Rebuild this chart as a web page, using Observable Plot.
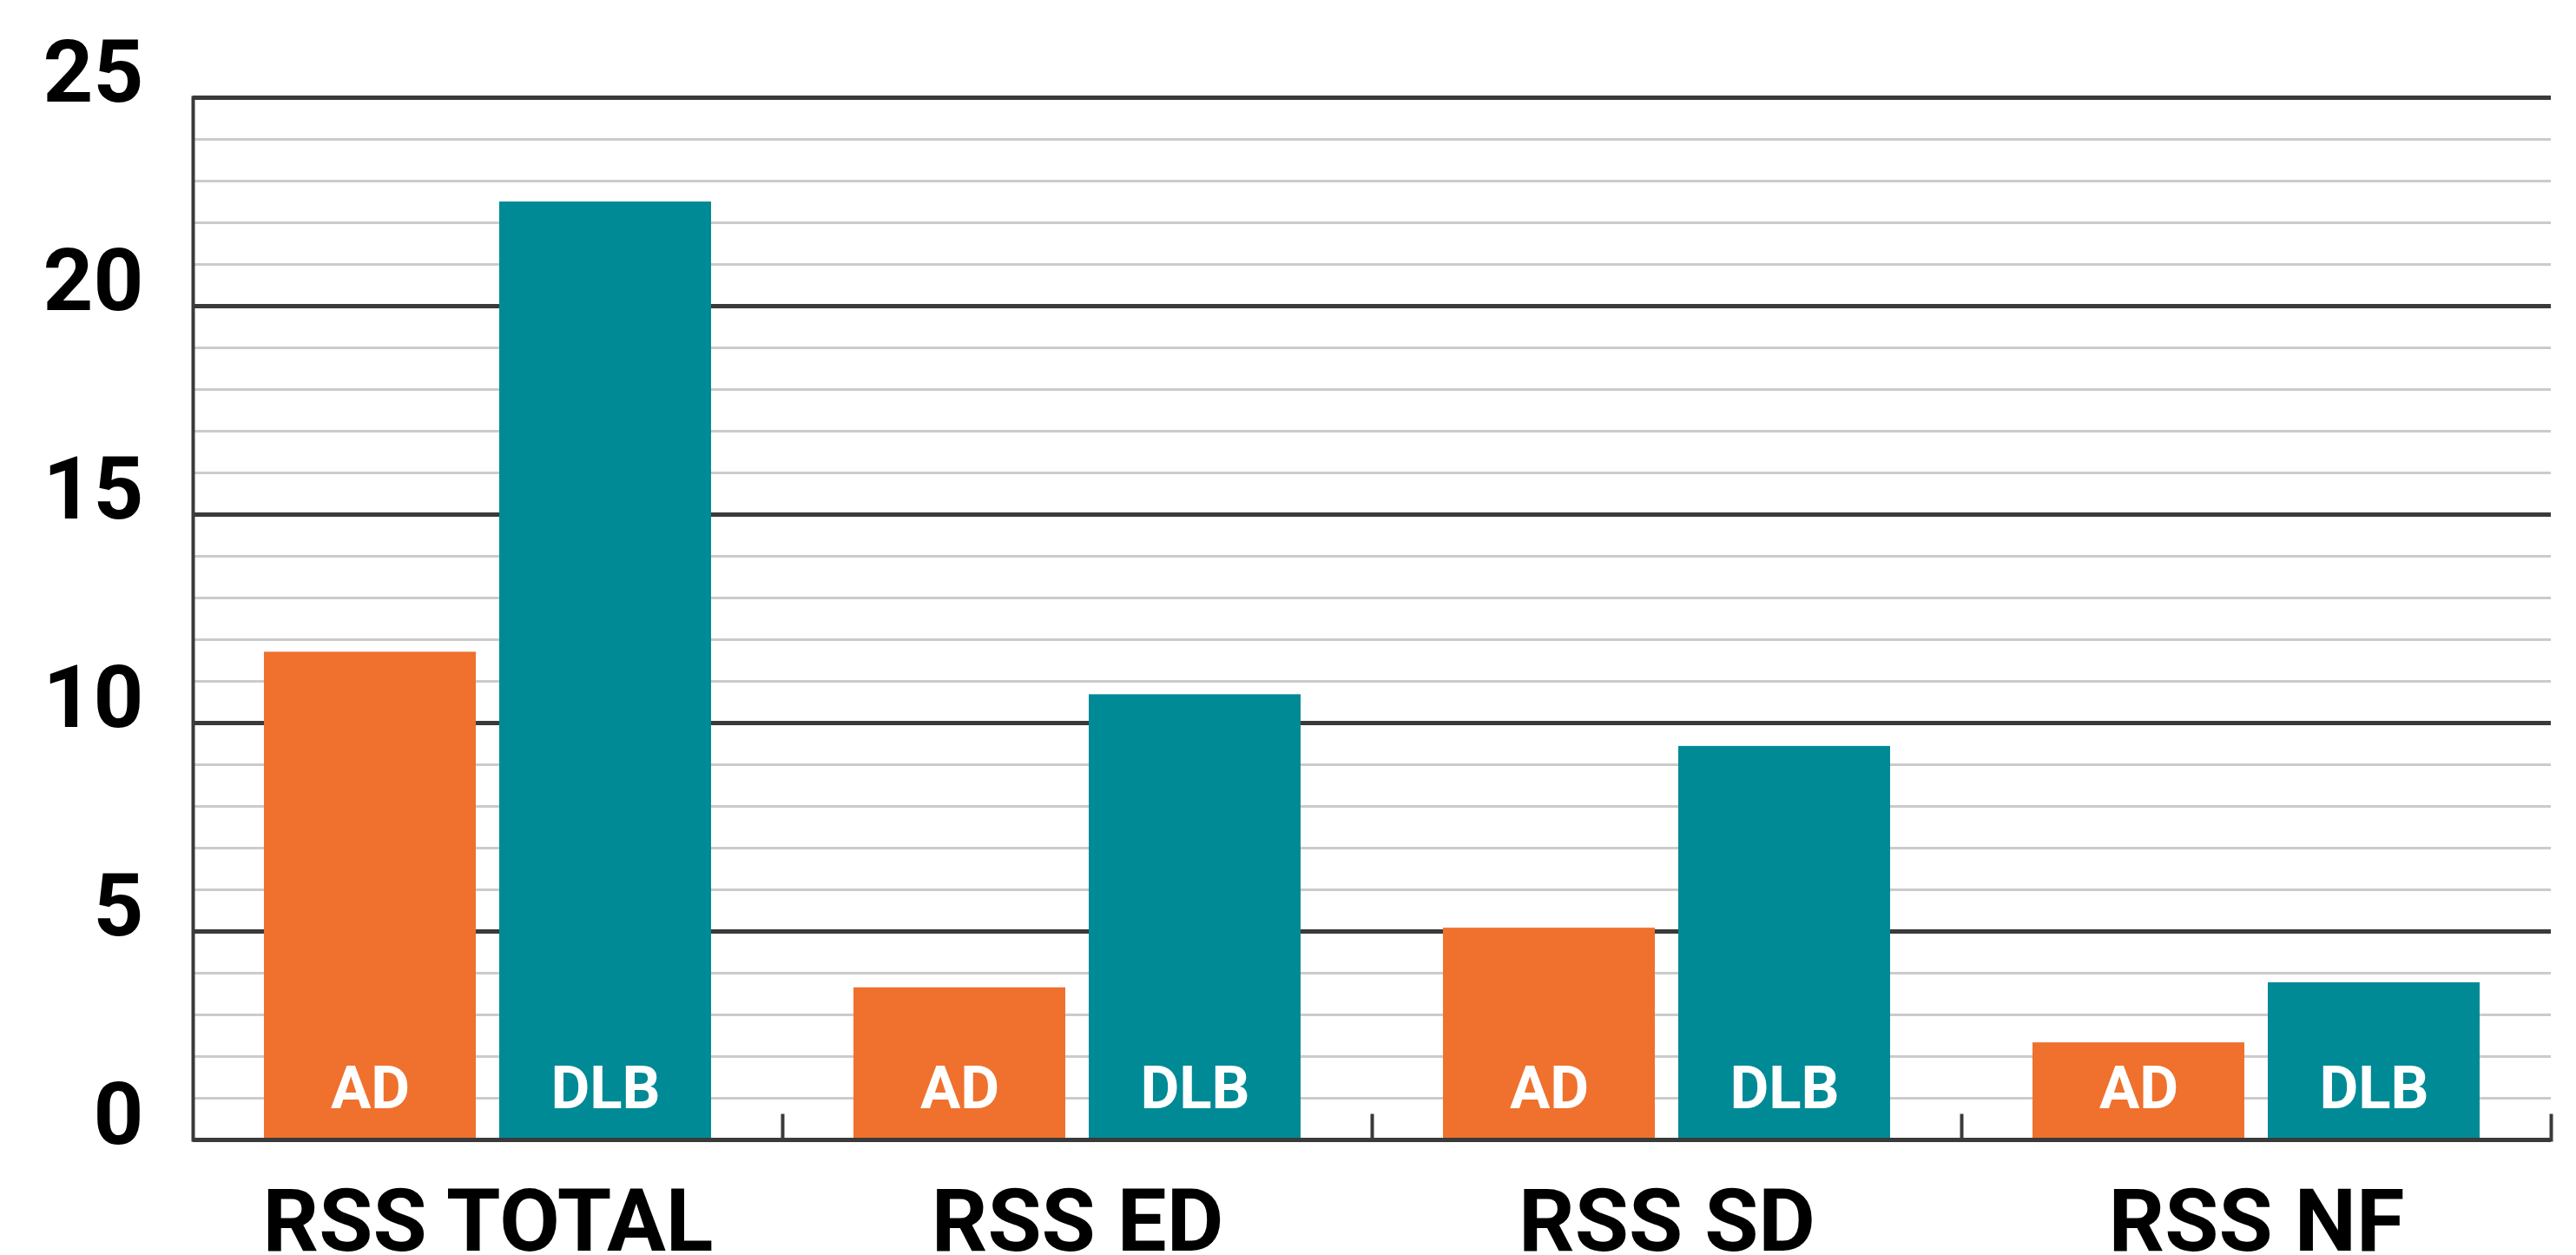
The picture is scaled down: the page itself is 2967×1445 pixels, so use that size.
<!DOCTYPE html>
<html>
<head>
<meta charset="utf-8">
<script src="https://cdn.jsdelivr.net/npm/d3@7"></script>
<script src="https://cdn.jsdelivr.net/npm/@observablehq/plot@0.6"></script>
<style>
  html, body { margin: 0; padding: 0; background: #fff; }
  svg { display: block; }
</style>
</head>
<body>
<div id="chart"></div>
<script>
// ---- data ----
const categories = ["RSS TOTAL", "RSS ED", "RSS SD", "RSS NF"];
const groups = ["AD", "DLB"];
const adValues = [11.7, 3.65, 5.08, 2.33];
const dlbValues = [22.5, 10.68, 9.44, 3.77];
const yTicks = [0, 5, 10, 15, 20, 25];
const yMinorTicks = d3.range(0, 26);
const colors = ["#EF712D", "#008A96"];

const data = categories.flatMap((c, i) => [
  {category: c, group: groups[0], value: adValues[i]},
  {category: c, group: groups[1], value: dlbValues[i]}
]);

// ---- layout ----
const W = 2967, H = 1445;
const mL = 221, mR = 29, mT = 112, mB = 133;
const plotH = H - mT - mB;
const dark = "#3a3a3a";

const chart = Plot.plot({
  width: W,
  height: H,
  marginLeft: mL,
  marginRight: mR,
  marginTop: mT,
  marginBottom: mB,
  style: {fontFamily: "Roboto, 'Liberation Sans', sans-serif", background: "#fff", color: "#000"},
  fx: {domain: categories, padding: 0, axis: null, label: null},
  x: {domain: groups, paddingInner: 0.0993, paddingOuter: 0.298, axis: null, label: null},
  y: {domain: [0, 25], axis: null, label: null},
  color: {domain: groups, range: colors},
  marks: [
    Plot.ruleY(yMinorTicks, {stroke: "#cbcbcb", strokeWidth: 3}),
    Plot.ruleY(yTicks, {stroke: dark, strokeWidth: 5}),
    Plot.barY(data, {fx: "category", x: "group", y: "value", fill: "group"}),
    Plot.text(data, {
      fx: "category", x: "group", y: 0, text: "group",
      fill: "white", fontSize: 69, fontWeight: "bold",
      lineAnchor: "bottom", dy: -37
    }),
    Plot.frame({anchor: "left", facetAnchor: "left", stroke: dark, strokeWidth: 4}),
    Plot.frame({anchor: "right", insetTop: plotH - 28, stroke: dark, strokeWidth: 4}),
    Plot.ruleY([0], {stroke: dark, strokeWidth: 5}),
    Plot.axisY(yTicks, {
      anchor: "left", tickSize: 0, tickPadding: 57, label: null,
      fontSize: 101, fontWeight: "bold", dy: -28, tickFormat: d => String(d)
    }),
    Plot.axisFx({
      anchor: "bottom", tickSize: 0, tickPadding: 56,
      fontSize: 101, fontWeight: "bold", label: null
    })
  ]
});

document.getElementById("chart").appendChild(chart);
</script>
</body>
</html>
